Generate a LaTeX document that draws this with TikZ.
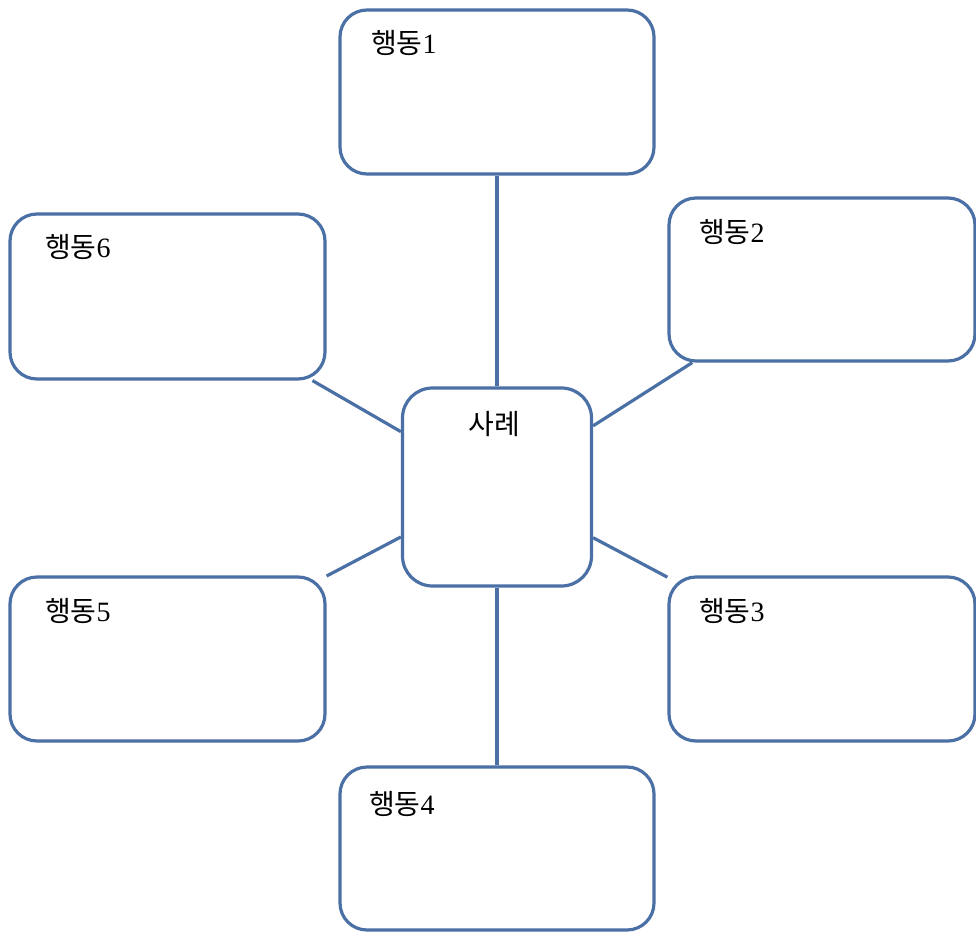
\documentclass[tikz,border=0pt]{standalone}
\usepackage{fontspec}
\setmainfont{Liberation Serif}
\newfontfamily\kr{Noto Sans CJK KR}
\definecolor{bl}{RGB}{74,112,165}
\begin{document}
\begin{tikzpicture}[x=1pt,y=-1pt,
  box/.style={draw=bl, line width=3.2pt, rounded corners=27pt, inner sep=0pt, fill=white},
  lab/.style={anchor=base west, font=\fontsize{28}{28}\selectfont, inner sep=0pt},
  conn/.style={draw=bl, line width=3.2pt}]
\useasboundingbox (0,0) rectangle (976,931);
\node[box, minimum width=314pt, minimum height=164pt] (b1) at (497,92) {};
\node[box, minimum width=306pt, minimum height=163pt] (b2) at (822,279.5) {};
\node[box, minimum width=306pt, minimum height=164pt] (b3) at (822,659) {};
\node[box, minimum width=314pt, minimum height=163pt] (b4) at (497,848.5) {};
\node[box, minimum width=315pt, minimum height=164pt] (b5) at (167.5,659) {};
\node[box, minimum width=315pt, minimum height=165pt] (b6) at (167.5,296.5) {};
\node[box, rounded corners=30pt, minimum width=189pt, minimum height=198pt] (c) at (497,487) {};
\draw[conn] (b1.south) -- (c.north);
\draw[conn] (b4.north) -- (c.south);
\draw[conn] (b2) -- (c);
\draw[conn] (b3) -- (c);
\draw[conn] (b5) -- (c);
\draw[conn] (b6) -- (c);
\node[lab] (t1) at (371,54) {{\kr 행동}1};
\node[lab] (t2) at (699,242) {{\kr 행동}2};
\node[lab] (t3) at (699,621) {{\kr 행동}3};
\node[lab] (t4) at (369,814) {{\kr 행동}4};
\node[lab] (t5) at (45,621) {{\kr 행동}5};
\node[lab] (t6) at (45,257) {{\kr 행동}6};
\node[lab, anchor=base] (tc) at (494,434) {\kr 사례};
\end{tikzpicture}
\end{document}
